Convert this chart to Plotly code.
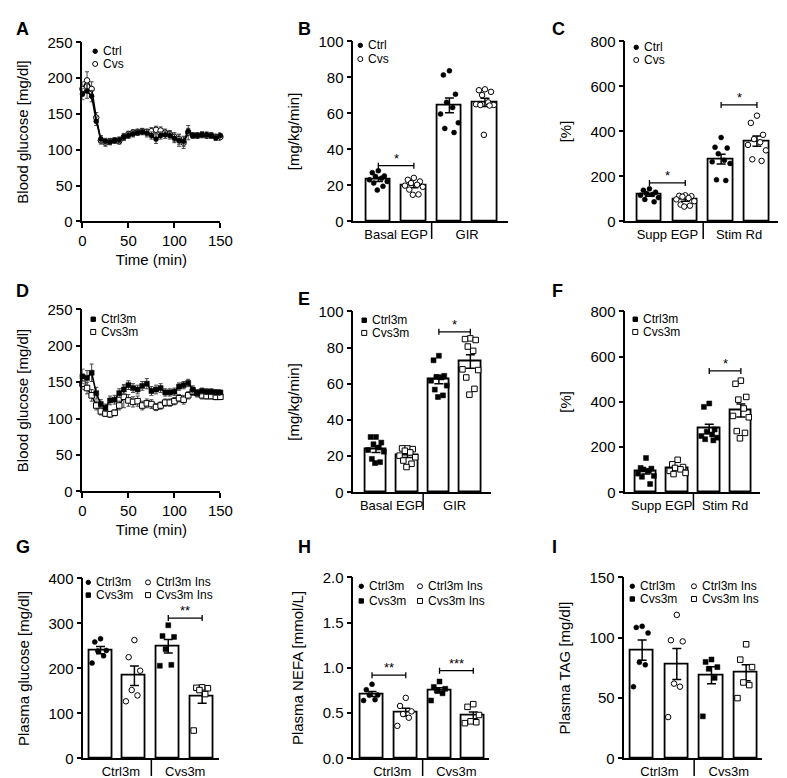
import plotly.graph_objects as go

W, H = 787, 778
FONT = "Arial, Liberation Sans, sans-serif"

# ---------------- data ----------------
time_min = [0, 5, 10, 15, 20, 25, 30, 35, 40, 45, 50, 55, 60, 65, 70, 75,
            80, 85, 90, 95, 100, 105, 110, 115, 120, 125, 130, 135, 140, 145, 150]

A_ctrl = [178, 182, 175, 140, 115, 112, 111, 113, 114, 118, 120, 122, 124, 125, 123, 120,
          115, 120, 121, 120, 116, 113, 112, 126, 120, 120, 121, 121, 120, 117, 120]
A_ctrl_sem = [8, 10, 8, 6, 5, 4, 4, 4, 4, 4, 4, 4, 4, 4, 5, 5, 6, 5, 5, 5, 6, 8, 7, 4, 4, 4, 4, 4, 4, 4, 4]
A_cvs = [185, 197, 185, 145, 113, 110, 112, 113, 112, 118, 122, 124, 125, 126, 125, 126,
         128, 127, 124, 122, 118, 115, 110, 124, 120, 120, 121, 120, 120, 118, 118]
A_cvs_sem = [10, 12, 10, 7, 5, 5, 4, 4, 4, 5, 4, 4, 4, 4, 4, 5, 5, 5, 5, 5, 6, 7, 8, 10, 4, 4, 4, 4, 4, 4, 5]

D_ctrl = [158, 156, 163, 135, 120, 115, 125, 126, 135, 140, 146, 142, 140, 145, 148, 138,
          140, 142, 136, 136, 137, 144, 146, 149, 140, 135, 138, 137, 137, 136, 136]
D_ctrl_sem = [10, 10, 12, 8, 6, 5, 6, 6, 6, 7, 6, 6, 6, 6, 7, 6, 6, 6, 5, 5, 5, 5, 5, 5, 5, 5, 4, 4, 4, 4, 4]
D_cvs = [148, 142, 132, 118, 110, 107, 106, 108, 118, 130, 125, 123, 124, 118, 121, 120,
         116, 118, 122, 122, 124, 128, 126, 132, 137, 135, 132, 131, 131, 130, 130]
D_cvs_sem = [8, 8, 8, 6, 5, 4, 4, 4, 6, 15, 8, 7, 7, 6, 6, 6, 5, 5, 5, 5, 5, 5, 6, 5, 5, 5, 5, 4, 4, 4, 4]

# B: Basal EGP / GIR  (Ctrl, Cvs)
B_groups = ["Basal EGP", "GIR"]
B_ctrl_basal = [28.2, 27.1, 25.3, 25.0, 24.0, 23.1, 22.2, 21.3, 19.5, 17.4]
B_cvs_basal = [24.2, 23.1, 22.2, 21.3, 20.4, 19.9, 19.2, 17.7, 15.0, 14.8]
B_ctrl_gir = [83.7, 81.4, 70.7, 66.2, 63.3, 59.7, 54.8, 51.7, 49.4]
B_cvs_gir = [73.4, 72.9, 72.0, 70.2, 66.2, 65.1, 64.7, 64.7, 64.4, 48.1]

# C: Supp EGP / Stim Rd (Ctrl, Cvs)
C_groups = ["Supp EGP", "Stim Rd"]
C_ctrl_supp = [145, 139, 130, 124, 120, 116, 106, 98, 87]
C_cvs_supp = [116, 114, 112, 110, 104, 98, 90, 75, 70, 66]
C_ctrl_stim = [373, 330, 326, 301, 272, 265, 258, 185, 182]
C_cvs_stim = [470, 438, 385, 366, 352, 340, 316, 276, 269]

# E: Basal EGP / GIR (Ctrl3m, Cvs3m)
E_ctrl_basal = [30.6, 30.6, 27.5, 26.6, 24.8, 23.4, 22.5, 18.5, 16.7, 16.2]
E_cvs_basal = [24.3, 24.3, 23.9, 23.0, 22.1, 20.3, 19.4, 17.6, 15.8, 14.0]
E_ctrl_gir = [75.5, 73.0, 64.4, 63.8, 63.5, 61.7, 59.0, 56.8, 53.6, 52.7]
E_cvs_gir = [85.1, 84.7, 84.2, 80.6, 78.2, 68.0, 67.6, 63.5, 57.2, 54.0]

# F: Supp EGP / Stim Rd (Ctrl3m, Cvs3m)
F_ctrl_supp = [152, 108, 105, 101, 95, 83, 73, 69, 37]
F_cvs_supp = [144, 124, 112, 108, 102, 95, 86, 81]
F_ctrl_stim = [393, 378, 278, 268, 256, 249, 242, 235, 230]
F_cvs_stim = [494, 480, 422, 410, 371, 338, 332, 271, 263, 239]

# G/H/I: Ctrl3m, Ctrl3m Ins, Cvs3m, Cvs3m Ins
GHI_groups = ["Ctrl3m", "Cvs3m"]
GHI_series = ["Ctrl3m", "Ctrl3m Ins", "Cvs3m", "Cvs3m Ins"]
G_vals = [[266, 259, 240, 239, 228, 212],
          [263, 225, 195, 152, 140, 127],
          [296, 272, 270, 243, 208, 206],
          [158, 157, 156, 152, 143, 62]]
H_vals = [[0.82, 0.76, 0.70, 0.70, 0.65, 0.64],
          [0.67, 0.58, 0.52, 0.49, 0.45, 0.36],
          [0.85, 0.79, 0.77, 0.75, 0.72, 0.64],
          [0.60, 0.57, 0.48, 0.41, 0.40, 0.39]]
I_vals = [[109.5, 108.6, 104.0, 79.7, 77.6, 59.5],
          [119.0, 98.0, 97.0, 62.0, 59.5, 34.3],
          [82.0, 80.0, 75.7, 74.3, 66.8, 34.9],
          [94.6, 81.9, 75.7, 63.0, 60.8, 50.0]]

# significance brackets: (panel, bar_from, bar_to, y, label)
brackets = [("B", 0, 1, 31, "*"), ("C", 0, 1, 171, "*"), ("C", 2, 3, 518, "*"),
            ("E", 2, 3, 88.7, "*"), ("F", 2, 3, 537, "*"), ("G", 2, 3, 312, "**"),
            ("H", 0, 1, 0.92, "**"), ("H", 2, 3, 0.97, "***")]

# ---------------- layout helpers ----------------
# panel boxes in pixels: (x_left, x_right, y_top, y_bottom)
boxes = {
    "A": (72, 213, 26, 209), "B": (349, 507, 25, 209), "C": (627, 783, 25, 209),
    "D": (72, 213, 299, 485), "E": (349, 490, 301, 486), "F": (627, 765, 301, 486),
    "G": (73, 212, 574, 758), "H": (349, 488, 573, 758), "I": (626, 767, 573, 758),
}
order = ["A", "B", "C", "D", "E", "F", "G", "H", "I"]
idx = {p: i + 1 for i, p in enumerate(order)}


def ax(p, kind):
    n = idx[p]
    return kind if n == 1 else f"{kind}{n}"


def axkey(p, kind):
    n = idx[p]
    return f"{kind}axis" if n == 1 else f"{kind}axis{n}"


def mean(v):
    return sum(v) / len(v)


def sem(v):
    m = mean(v)
    sd = (sum((x - m) ** 2 for x in v) / (len(v) - 1)) ** 0.5
    return sd / len(v) ** 0.5


JIT = [0.0, -0.17, 0.17, -0.08, 0.09, -0.25, 0.25, -0.13, 0.13, -0.03, 0.21, -0.21]

MK = {
    "dot": dict(symbol="circle", size=5, color="black", line=dict(color="black", width=0.5)),
    "odot": dict(symbol="circle", size=5.5, color="white", line=dict(color="black", width=1)),
    "sq": dict(symbol="square", size=5, color="black", line=dict(color="black", width=0.5)),
    "osq": dict(symbol="square", size=5.5, color="white", line=dict(color="black", width=1)),
}

fig = go.Figure()
shapes = []
annotations = []
layout = {}

axis_common = dict(showgrid=False, zeroline=False, showline=True, linecolor="black",
                   linewidth=1.8, tickfont=dict(family=FONT, size=15, color="black"),
                   fixedrange=True)


def set_domain(p):
    x0, x1, y0, y1 = boxes[p]
    return [x0 / W, x1 / W], [1 - y1 / H, 1 - y0 / H]


# ---------------- time-course panels ----------------
def time_panel(p, series, ytitle):
    xd, yd = set_domain(p)
    for vals, err, mk in series:
        fig.add_trace(go.Scatter(
            x=time_min, y=vals, mode="lines+markers", xaxis=ax(p, "x"), yaxis=ax(p, "y"),
            line=dict(color="black", width=1.6), marker=MK[mk], cliponaxis=False,
            error_y=dict(type="data", array=err, color="#444444", thickness=1, width=2),
            showlegend=False, hoverinfo="skip"))
    layout[axkey(p, "x")] = dict(axis_common, domain=xd, anchor=ax(p, "y"), range=[0, 150],
                                 tickvals=[0, 50, 100, 150], ticks="outside", ticklen=5,
                                 tickwidth=1.8, tickcolor="black",
                                 title=dict(text="Time (min)", font=dict(family=FONT, size=15, color="black"),
                                            standoff=6))
    layout[axkey(p, "y")] = dict(axis_common, domain=yd, anchor=ax(p, "x"), range=[0, 250],
                                 tickvals=[0, 50, 100, 150, 200, 250], ticks="outside", ticklen=5,
                                 tickwidth=1.8, tickcolor="black",
                                 title=dict(text=ytitle, font=dict(family=FONT, size=15, color="black")))


time_panel("A", [(A_cvs, A_cvs_sem, "odot"), (A_ctrl, A_ctrl_sem, "dot")], "Blood glucose [mg/dl]")
time_panel("D", [(D_cvs, D_cvs_sem, "osq"), (D_ctrl, D_ctrl_sem, "sq")], "Blood glucose [mg/dl]")


# ---------------- bar panels ----------------
def bar_panel(p, groups, markers, xr, ymax, ytick, ytitle, glabels, lpos, tickformat=None):
    xd, yd = set_domain(p)
    pos = list(range(len(groups)))
    fig.add_trace(go.Bar(
        x=pos, y=[mean(g) for g in groups], width=0.68, xaxis=ax(p, "x"), yaxis=ax(p, "y"),
        marker=dict(color="white", line=dict(color="black", width=1.8)),
        error_y=dict(type="data", array=[sem(g) for g in groups], color="black",
                     thickness=1.5, width=4.5),
        showlegend=False, hoverinfo="skip"))
    for i, (g, mk) in enumerate(zip(groups, markers)):
        fig.add_trace(go.Scatter(
            x=[i + JIT[j] for j in range(len(g))], y=g, mode="markers",
            xaxis=ax(p, "x"), yaxis=ax(p, "y"), marker=MK[mk], cliponaxis=False,
            showlegend=False, hoverinfo="skip"))
    layout[axkey(p, "x")] = dict(axis_common, domain=xd, anchor=ax(p, "y"), range=xr,
                                 tickvals=lpos, ticktext=glabels, ticks="",
                                 tickfont=dict(family=FONT, size=13, color="black"))
    yax = dict(axis_common, domain=yd, anchor=ax(p, "x"), range=[0, ymax],
               dtick=ytick, tick0=0, ticks="outside", ticklen=5, tickwidth=1.8, tickcolor="black",
               title=dict(text=ytitle, font=dict(family=FONT, size=15, color="black")))
    if tickformat:
        yax["tickformat"] = tickformat
    layout[axkey(p, "y")] = yax
    # divider below the axis between the two groups
    ybot = boxes[p][3]
    shapes.append(dict(type="line", xref=ax(p, "x"), yref="paper", x0=1.5, x1=1.5,
                       y0=1 - ybot / H, y1=1 - (ybot + 18) / H,
                       line=dict(color="black", width=1.5)))


bar_panel("B", [B_ctrl_basal, B_cvs_basal, B_ctrl_gir, B_cvs_gir], ["dot", "odot", "dot", "odot"],
          [-0.70, 3.65], 100, 20, "[mg/kg/min]", B_groups, [0.5, 2.5])
bar_panel("C", [C_ctrl_supp, C_cvs_supp, C_ctrl_stim, C_cvs_stim], ["dot", "odot", "dot", "odot"],
          [-0.67, 3.59], 800, 200, "[%]", C_groups, [0.5, 2.5])
bar_panel("E", [E_ctrl_basal, E_cvs_basal, E_ctrl_gir, E_cvs_gir], ["sq", "osq", "sq", "osq"],
          [-0.715, 3.67], 100, 20, "[mg/kg/min]", B_groups, [0.5, 2.5])
bar_panel("F", [F_ctrl_supp, F_cvs_supp, F_ctrl_stim, F_cvs_stim], ["sq", "osq", "sq", "osq"],
          [-0.65, 3.62], 800, 200, "[%]", C_groups, [0.5, 2.5])
bar_panel("G", G_vals, ["dot", "odot", "sq", "osq"], [-0.505, 3.51], 400, 100,
          "Plasma glucose [mg/dl]", GHI_groups, [0.6, 2.5])
bar_panel("H", H_vals, ["dot", "odot", "sq", "osq"], [-0.55, 3.48], 2.0, 0.5,
          "Plasma NEFA [mmol/L]", GHI_groups, [0.6, 2.5], tickformat=".1f")
bar_panel("I", I_vals, ["dot", "odot", "sq", "osq"], [-0.51, 3.47], 150, 50,
          "Plasma TAG [mg/dl]", GHI_groups, [0.5, 2.5])

# ---------------- significance brackets ----------------
for p, a, b, y, lab in brackets:
    xr, yr = ax(p, "x"), ax(p, "y")
    shapes.append(dict(type="line", xref=xr, yref=yr, x0=a, x1=b, y0=y, y1=y,
                       line=dict(color="black", width=1.3)))
    for xe in (a, b):
        shapes.append(dict(type="line", xref=xr, yref=yr, x0=xe, x1=xe, ysizemode="pixel",
                           yanchor=y, y0=-3, y1=3, line=dict(color="black", width=1.3)))
    annotations.append(dict(xref=xr, yref=yr, x=(a + b) / 2, y=y, text=lab, showarrow=False,
                            yanchor="bottom", yshift=-2, font=dict(family=FONT, size=13, color="black")))

# ---------------- legends (drawn) ----------------
# (px of symbol, py, marker kind, text)
legends = [
    (85, 35, "dot", "Ctrl"), (85, 48, "odot", "Cvs"),
    (356, 29, "dot", "Ctrl"), (356, 43, "odot", "Cvs"),
    (638, 31, "dot", "Ctrl"), (638, 44, "odot", "Cvs"),
    (83, 309, "sq", "Ctrl3m"), (83, 322, "osq", "Cvs3m"),
    (360, 310, "sq", "Ctrl3m"), (360, 323, "osq", "Cvs3m"),
    (637, 309, "sq", "Ctrl3m"), (637, 322, "osq", "Cvs3m"),
    (78, 578, "dot", "Ctrl3m"), (139, 578, "odot", "Ctrl3m Ins"),
    (78, 591, "sq", "Cvs3m"), (139, 591, "osq", "Cvs3m Ins"),
    (357, 582, "dot", "Ctrl3m"), (417, 582, "odot", "Ctrl3m Ins"),
    (357, 597, "sq", "Cvs3m"), (417, 597, "osq", "Cvs3m Ins"),
    (634, 582, "dot", "Ctrl3m"), (697, 582, "odot", "Ctrl3m Ins"),
    (634, 595, "sq", "Cvs3m"), (697, 595, "osq", "Cvs3m Ins"),
]
for px, py, kind, txt in legends:
    filled = kind in ("dot", "sq")
    r = 2.2 if filled else 2.5
    shapes.append(dict(type="circle" if kind in ("dot", "odot") else "rect",
                       xref="paper", yref="paper", xsizemode="pixel", ysizemode="pixel",
                       xanchor=px / W, yanchor=1 - py / H, x0=-r, x1=r, y0=-r, y1=r,
                       fillcolor="black" if filled else "white",
                       line=dict(color="black", width=1)))
    annotations.append(dict(xref="paper", yref="paper", x=(px + 7) / W, y=1 - py / H, text=txt,
                            xanchor="left", yanchor="middle", showarrow=False, borderpad=0,
                            font=dict(family=FONT, size=12, color="black")))

# ---------------- panel letters ----------------
letters = [("A", 2, 12), ("B", 290, 12), ("C", 550, 12), ("D", 2, 280), ("E", 290, 288),
           ("F", 550, 280), ("G", 2, 542), ("H", 290, 542), ("I", 550, 542)]
for t, px, py in letters:
    annotations.append(dict(xref="paper", yref="paper", x=px / W, y=1 - py / H, text=f"<b>{t}</b>",
                            xanchor="left", yanchor="middle", showarrow=False,
                            font=dict(family=FONT, size=18, color="black")))

fig.update_layout(
    width=W, height=H, margin=dict(l=0, r=0, t=0, b=0),
    paper_bgcolor="white", plot_bgcolor="white", showlegend=False,
    font=dict(family=FONT, color="black"), bargap=0,
    shapes=shapes, annotations=annotations, **layout)

fig.write_html("out.html")
